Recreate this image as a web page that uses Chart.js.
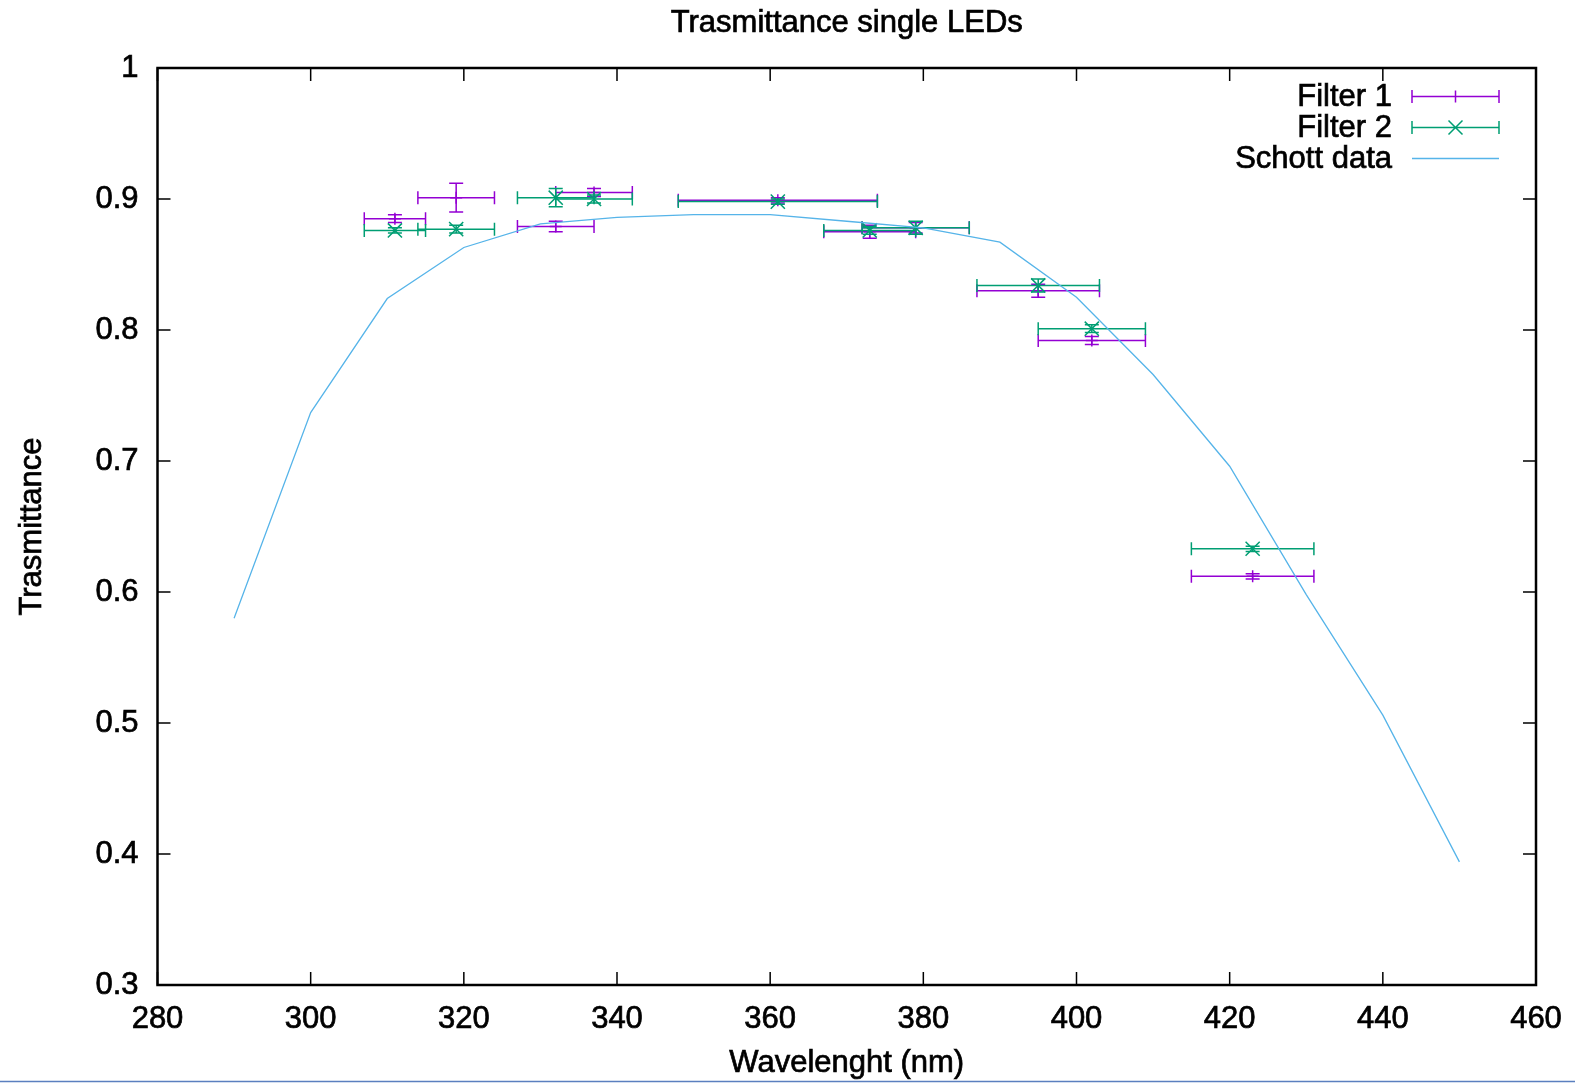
<!DOCTYPE html>
<html>
<head>
<meta charset="utf-8">
<title>Trasmittance single LEDs</title>
<script src="https://cdn.jsdelivr.net/npm/chart.js@4.4.1/dist/chart.umd.min.js"></script>
<style>
  html, body { margin: 0; padding: 0; background: #fff; }
</style>
</head>
<body>
<canvas id="chart" width="1575" height="1083"></canvas>
<script>
// data
const ledWavelength = [311, 319, 332, 337, 361, 373, 379, 395, 402, 423];
const ledWavelengthErr = [4, 5, 5, 5, 13, 6, 7, 8, 7, 8];

const filter1Trans = [0.885, 0.901, 0.879, 0.905, 0.899, 0.875, 0.878, 0.830, 0.792, 0.612];
const filter1Err = [0.003, 0.011, 0.004, 0.003, 0.002, 0.005, 0.004, 0.005, 0.003, 0.002];

const filter2Trans = [0.876, 0.877, 0.901, 0.900, 0.898, 0.876, 0.878, 0.834, 0.801, 0.633];
const filter2Err = [0.002, 0.003, 0.007, 0.003, 0.002, 0.003, 0.005, 0.005, 0.003, 0.002];

const schottWavelength = [290, 300, 310, 320, 330, 340, 350, 360, 370, 380, 390, 400, 410, 420, 430, 440, 450];
const schottTrans = [0.580, 0.737, 0.824, 0.863, 0.881, 0.886, 0.888, 0.888, 0.883, 0.878, 0.867, 0.825, 0.766, 0.696, 0.598, 0.506, 0.394];

const xTicks = [280, 300, 320, 340, 360, 380, 400, 420, 440, 460];
const yTicks = [0.3, 0.4, 0.5, 0.6, 0.7, 0.8, 0.9, 1];

const purple = "#9400D3";
const green = "#009E73";
const blue = "#56B4E9";
const fontFamily = "'Liberation Sans', Arial, sans-serif";
const textFont = { family: fontFamily, size: 31 };
const textStroke = 0.7; // gnuplot's text is a bit heavier than plain regular

function toPoints(xs, ys) {
  return xs.map((x, i) => ({ x: x, y: ys[i] }));
}

function heavyText(ctx, text, x, y) {
  ctx.fillText(text, x, y);
  ctx.strokeText(text, x, y);
}

// x and y error bars, drawn with the chart's scales
function drawErrorBars(chart, ds) {
  const ctx = chart.ctx;
  const xs = chart.scales.x;
  const ys = chart.scales.y;
  const cap = 6.5;
  ctx.save();
  ctx.strokeStyle = ds.borderColor;
  ctx.lineWidth = 1.5;
  ds.data.forEach((p, i) => {
    const px = xs.getPixelForValue(p.x);
    const py = ys.getPixelForValue(p.y);
    const x0 = xs.getPixelForValue(p.x - ds.xErr[i]);
    const x1 = xs.getPixelForValue(p.x + ds.xErr[i]);
    const y0 = ys.getPixelForValue(p.y - ds.yErr[i]);
    const y1 = ys.getPixelForValue(p.y + ds.yErr[i]);
    ctx.beginPath();
    ctx.moveTo(x0, py); ctx.lineTo(x1, py);
    ctx.moveTo(x0, py - cap); ctx.lineTo(x0, py + cap);
    ctx.moveTo(x1, py - cap); ctx.lineTo(x1, py + cap);
    ctx.moveTo(px, y0); ctx.lineTo(px, y1);
    ctx.moveTo(px - 7, y0); ctx.lineTo(px + 7, y0);
    ctx.moveTo(px - 7, y1); ctx.lineTo(px + 7, y1);
    ctx.stroke();
  });
  ctx.restore();
}

const gnuplotLook = {
  id: "gnuplotLook",
  beforeDatasetDraw(chart, args) {
    const ds = chart.data.datasets[args.index];
    if (ds.xErr) drawErrorBars(chart, ds);
  },
  afterDraw(chart) {
    const ctx = chart.ctx;
    const a = chart.chartArea;
    const xs = chart.scales.x;
    const ys = chart.scales.y;
    ctx.save();
    // inward ticks on all four sides
    ctx.strokeStyle = "#000";
    ctx.lineWidth = 1.5;
    ctx.beginPath();
    xTicks.forEach((v) => {
      const px = xs.getPixelForValue(v);
      ctx.moveTo(px, a.bottom); ctx.lineTo(px, a.bottom - 13);
      ctx.moveTo(px, a.top); ctx.lineTo(px, a.top + 13);
    });
    yTicks.forEach((v) => {
      const py = ys.getPixelForValue(v);
      ctx.moveTo(a.left, py); ctx.lineTo(a.left + 13, py);
      ctx.moveTo(a.right, py); ctx.lineTo(a.right - 13, py);
    });
    ctx.stroke();
    // frame
    ctx.lineWidth = 2.5;
    ctx.strokeRect(a.left, a.top, a.right - a.left, a.bottom - a.top);

    // titles
    ctx.fillStyle = "#000";
    ctx.strokeStyle = "#000";
    ctx.lineWidth = textStroke;
    ctx.font = "31px " + fontFamily;
    ctx.textAlign = "center";
    ctx.textBaseline = "middle";
    const midX = (a.left + a.right) / 2;
    const midY = (a.top + a.bottom) / 2;
    heavyText(ctx, "Trasmittance single LEDs", midX, 23);
    heavyText(ctx, "Wavelenght (nm)", midX, 1063);
    ctx.save();
    ctx.translate(32, midY);
    ctx.rotate(-Math.PI / 2);
    heavyText(ctx, "Trasmittance", 0, 0);
    ctx.restore();

    // legend, gnuplot style
    const textRight = 1392;
    const s0 = 1412;
    const s1 = 1499;
    const mid = (s0 + s1) / 2;
    const rows = [96.5, 127.5, 158.5];
    ctx.textAlign = "right";
    chart.data.datasets.forEach((ds, i) => {
      const ry = rows[i];
      ctx.fillStyle = "#000";
      ctx.strokeStyle = "#000";
      ctx.lineWidth = textStroke;
      heavyText(ctx, ds.label, textRight, ry + 1);
      ctx.strokeStyle = ds.borderColor;
      ctx.lineWidth = 1.5;
      ctx.beginPath();
      ctx.moveTo(s0, ry); ctx.lineTo(s1, ry);
      if (ds.xErr) {
        ctx.moveTo(s0, ry - 6.5); ctx.lineTo(s0, ry + 6.5);
        ctx.moveTo(s1, ry - 6.5); ctx.lineTo(s1, ry + 6.5);
        if (ds.pointStyle === "cross") {
          ctx.moveTo(mid, ry - 6); ctx.lineTo(mid, ry + 6);
        } else {
          ctx.moveTo(mid - 7, ry - 7); ctx.lineTo(mid + 7, ry + 7);
          ctx.moveTo(mid - 7, ry + 7); ctx.lineTo(mid + 7, ry - 7);
        }
      }
      ctx.stroke();
    });

    // thin rule along the bottom edge of the image
    ctx.strokeStyle = "#5a7fbf";
    ctx.lineWidth = 1.5;
    ctx.beginPath();
    ctx.moveTo(0, 1081.5); ctx.lineTo(chart.width, 1081.5);
    ctx.stroke();
    ctx.restore();
  },
};

const ctx = document.getElementById("chart").getContext("2d");
const chart = new Chart(ctx, {
  type: "scatter",
  data: {
    datasets: [
      {
        label: "Filter 1",
        data: toPoints(ledWavelength, filter1Trans),
        xErr: ledWavelengthErr,
        yErr: filter1Err,
        borderColor: purple,
        backgroundColor: purple,
        pointStyle: "cross",
        pointRadius: 6,
        pointBorderWidth: 1.5,
        showLine: false,
        order: 2,
      },
      {
        label: "Filter 2",
        data: toPoints(ledWavelength, filter2Trans),
        xErr: ledWavelengthErr,
        yErr: filter2Err,
        borderColor: green,
        backgroundColor: green,
        pointStyle: "crossRot",
        pointRadius: 10,
        pointBorderWidth: 1.5,
        showLine: false,
        order: 1,
      },
      {
        label: "Schott data",
        data: toPoints(schottWavelength, schottTrans),
        borderColor: blue,
        backgroundColor: blue,
        borderWidth: 1.3,
        pointRadius: 0,
        showLine: true,
        tension: 0,
        order: 0,
      },
    ],
  },
  options: {
    responsive: false,
    animation: false,
    layout: { padding: { top: 68, right: 39, left: 0, bottom: 0 } },
    plugins: {
      legend: { display: false },
      title: { display: false },
      tooltip: { enabled: false },
    },
    scales: {
      x: {
        type: "linear",
        min: 280,
        max: 460,
        afterBuildTicks: (s) => { s.ticks = xTicks.map((v) => ({ value: v })); },
        afterFit: (s) => { s.height = 98; },
        ticks: {
          color: "#000",
          font: textFont,
          padding: 8,
          maxRotation: 0,
          textStrokeColor: "#000",
          textStrokeWidth: textStroke,
        },
        grid: { display: false },
        border: { display: false },
      },
      y: {
        type: "linear",
        min: 0.3,
        max: 1,
        afterBuildTicks: (s) => { s.ticks = yTicks.map((v) => ({ value: v })); },
        afterFit: (s) => { s.width = 157.5; },
        ticks: {
          color: "#000",
          font: textFont,
          padding: 11,
          textStrokeColor: "#000",
          textStrokeWidth: textStroke,
          callback: (v) => String(+v.toFixed(1)),
        },
        grid: { display: false },
        border: { display: false },
      },
    },
  },
  plugins: [gnuplotLook],
});
</script>
</body>
</html>
